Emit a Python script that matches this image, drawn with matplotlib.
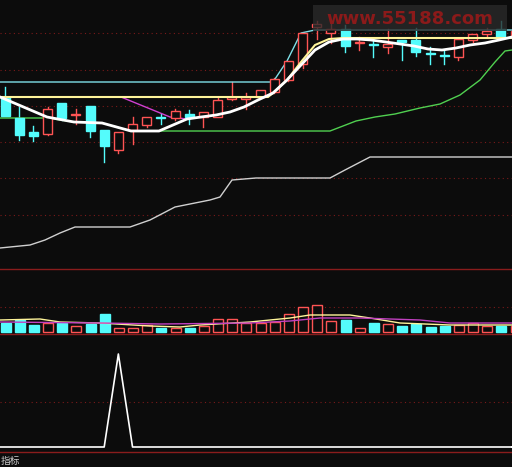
import matplotlib
matplotlib.use("Agg")
import matplotlib.pyplot as plt
from matplotlib.patches import Rectangle
import numpy as np

plt.rcParams['font.family'] = ['Noto Sans CJK SC', 'DejaVu Sans']

# candle data (screen-level units, smaller = higher)
opens  = [97,118,132,134,103,115,106,130,150,130,125,117,118,114,117,117,99,99,97,92,80,64,27,33,29,43,44,47,40,40,53,55,57,40,34,29,36]
closes = [116,135,136,109,118,114,131,146,132,124,117,118,111,117,112,100,97,97,90,79,61,33,24,29,46,42,45,44,42,52,54,56,39,34,31,37,31]
highs  = [87,107,126,107,103,109,106,130,132,117,117,114,109,110,112,97,82,93,90,78,61,33,21,23,25,37,39,29,40,28,47,50,39,34,28,21,29]
lows   = [116,140,141,135,120,124,137,162,153,144,127,124,120,124,127,117,100,109,97,93,81,68,39,43,52,50,57,53,60,56,64,64,60,42,37,37,36]
vol_top = [323,320,325,323,323,326,324,314,328,328,325,328,328,328,326,319,319,323,323,322,314,307,305,321,320,328,323,324,326,324,327,326,325,323,326,326,326]
signal = [0]*37
signal[8] = 1

ma_white_x = [0,47,74,102,131,159,173,187,201,216,230,244,258,273,287,301,315,329,343,357,371,386,400,414,428,442,456,470,485,499,512]
ma_white_y = [97,117,122,123,131,131,125,119,117,115,112,107,100,93,80,65,50,42,39,39,40,42,44,46,49,50,48,45,43,40,37]
green_x = [0,47,74,102,131,330,356,375,395,420,440,460,480,495,505,512]
green_y = [118,118,122,123,131,131,121,117,114,108,104,95,80,62,51,50]
cyan_x = [0,258,273,287,301,315,512]
cyan_y = [82,82,82,61,33,30,30]
yellow_x = [0,268,273,287,301,315,329,343,512]
yellow_y = [97,97,93,80,62,45,39,38,38]
mag_x = [121,170,187]
mag_y = [97,117,119]
gray_x = [0,30,45,60,75,130,150,175,210,220,232,256,330,345,370,512]
gray_y = [248,245,240,233,227,227,220,207,200,197,180,178,178,170,157,157]
vy_x = [0,40,60,100,150,180,200,250,290,310,350,370,400,450,512]
vy_y = [320,319,322,323,326,327,325,322,318,315,315,318,323,325,325]
vm_x = [0,100,160,250,290,320,360,420,450,512]
vm_y = [322,323,324,323,321,318,318,320,323,323]

BG = '#0c0c0c'
CYAN = '#54fcfc'
RED = '#ff5454'
fig = plt.figure(figsize=(5.12, 4.67), dpi=100, facecolor=BG)
ax = fig.add_axes([0, 0, 1, 1])
ax.set_facecolor(BG)
ax.set_xlim(0, 512)
ax.set_ylim(467, 0)
ax.axis('off')

for y in [33, 70, 106, 142, 178, 215, 307, 402]:
    ax.plot([0, 512], [y, y], color='#7a1a1a', lw=0.8, ls=(0, (1, 3)))
for y in [269, 334, 452]:
    ax.plot([0, 512], [y, y], color='#8a1c1c', lw=1)

x = 5 + np.arange(37) * 14.17
w = 9
for i in range(37):
    up = closes[i] < opens[i]
    col = RED if up else CYAN
    top, bot = min(opens[i], closes[i]), max(opens[i], closes[i])
    ax.plot([x[i], x[i]], [highs[i], top], color=col, lw=1)
    ax.plot([x[i], x[i]], [bot, lows[i]], color=col, lw=1)
    h = max(bot - top, 1)
    ax.add_patch(Rectangle((x[i]-w/2, top), w, h, facecolor=BG if up else col,
                           edgecolor=col, lw=1, zorder=3))
    ax.add_patch(Rectangle((x[i]-w/2, vol_top[i]), w+1, 332-vol_top[i],
                           facecolor=BG if up else col, edgecolor=col, lw=1, zorder=3))

ax.plot(cyan_x, cyan_y, color='#7fe0e8', lw=1)
ax.plot(yellow_x, yellow_y, color='#fff59a', lw=1.5, zorder=4)
ax.plot(mag_x, mag_y, color='#d040d0', lw=1)
ax.plot(green_x, green_y, color='#50d050', lw=1)
ax.plot(ma_white_x, ma_white_y, color='white', lw=2, zorder=5)
ax.plot(gray_x, gray_y, color='#d0d0d0', lw=1)
ax.plot(vy_x, vy_y, color='#fff59a', lw=1, zorder=4)
ax.plot(vm_x, vm_y, color='#c040c0', lw=1, zorder=4)

sx = np.concatenate([[0], x, [512]])
sy = np.concatenate([[signal[0]], signal, [signal[-1]]])
ax.plot(sx, 447 - sy * 93, color='white', lw=1.2)

ax.add_patch(Rectangle((313, 5), 194, 26, facecolor='#2a2a2a', edgecolor='none', alpha=0.8, zorder=6))
ax.text(410, 19, 'www.55188.com', color='#8b1a1a', fontsize=13, fontweight='bold',
        ha='center', va='center', zorder=7, family='DejaVu Sans')
ax.text(1, 466, '指标', color='#cccccc', fontsize=7, va='bottom')

fig.savefig('out.png', dpi=100, facecolor=BG)
